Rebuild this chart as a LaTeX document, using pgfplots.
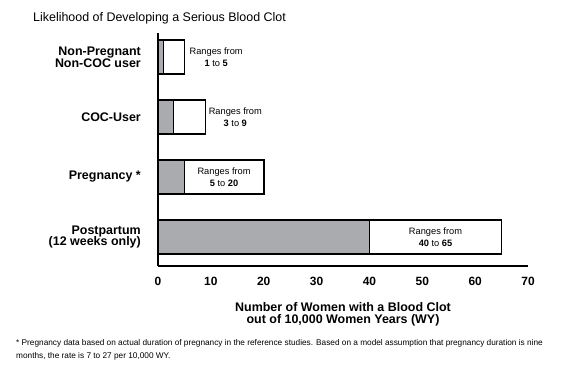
\documentclass[border=0pt]{standalone}
\usepackage{pgfplots}
\pgfplotsset{compat=1.18}
\usepackage{fontspec}
\setmainfont{Liberation Sans}
\definecolor{barfill}{RGB}{170,171,174}
\begin{document}
\begin{tikzpicture}[x=1bp,y=1bp]
\useasboundingbox (0,0) rectangle (562,366);
\node[anchor=west, font=\fontsize{12.5}{14}\selectfont, inner sep=0pt] at (33,348) {Likelihood of Developing a Serious Blood Clot};
\begin{axis}[
  at={(158bp,100bp)}, anchor=south west,
  scale only axis, width=370bp, height=233bp,
  xbar, bar width=34bp, bar shift=0pt,
  xmin=0, xmax=70, ymin=-0.483, ymax=3.4,
  axis x line*=bottom, axis y line*=left,
  axis line style={line width=2.5bp, -},
  xtick={0,10,...,70}, ytick={0,1,2,3},
  yticklabels={{Postpartum\\(12 weeks only)}, {Pregnancy *}, {COC-User}, {Non-Pregnant\\Non-COC user}},
  major tick length=0pt,
  /pgf/number format/assume math mode=true,
  yticklabel style={font=\bfseries\fontsize{12.5}{12}\selectfont, align=right, anchor=east, inner sep=0pt, xshift=-17bp},
  xticklabel style={font=\bfseries\fontsize{12}{12}\selectfont, anchor=north, inner sep=0pt, yshift=-11bp},
  xlabel={Number of Women with a Blood Clot\\out of 10,000 Women Years (WY)},
  xlabel style={font=\bfseries\fontsize{12.5}{12}\selectfont, align=center, at={(axis description cs:0.5,0)}, anchor=north, inner sep=0pt, yshift=-36bp},
  clip=false,
]
\addplot[fill=white, draw=none] coordinates {(65,0) (20,1) (9,2) (5,3)};
\addplot[fill=barfill, draw=black, line width=0.8bp] coordinates {(40,0) (5,1) (3,2) (1,3)};
\addplot[fill=none, draw=black, line width=1.8bp] coordinates {(65,0) (20,1) (9,2) (5,3)};
\begin{scope}[every node/.style={font=\fontsize{9.3}{12}\selectfont, align=center, inner sep=0pt}]
\node[anchor=west, xshift=5bp] at (axis cs:5,3) {Ranges from\\\textbf{1} to \textbf{5}};
\node[anchor=west, xshift=3bp] at (axis cs:9,2) {Ranges from\\\textbf{3} to \textbf{9}};
\node at (axis cs:12.5,1) {Ranges from\\\textbf{5} to \textbf{20}};
\node at (axis cs:52.5,0) {Ranges from\\\textbf{40} to \textbf{65}};
\end{scope}
\end{axis}
\node[anchor=north west, inner sep=0pt, align=left, font=\fontsize{8.3}{13}\selectfont] at (16,27) {* Pregnancy data based on actual duration of pregnancy in the reference studies. Based on a model assumption that pregnancy duration is nine\\months, the rate is 7 to 27 per 10,000 WY.};
\end{tikzpicture}
\end{document}
